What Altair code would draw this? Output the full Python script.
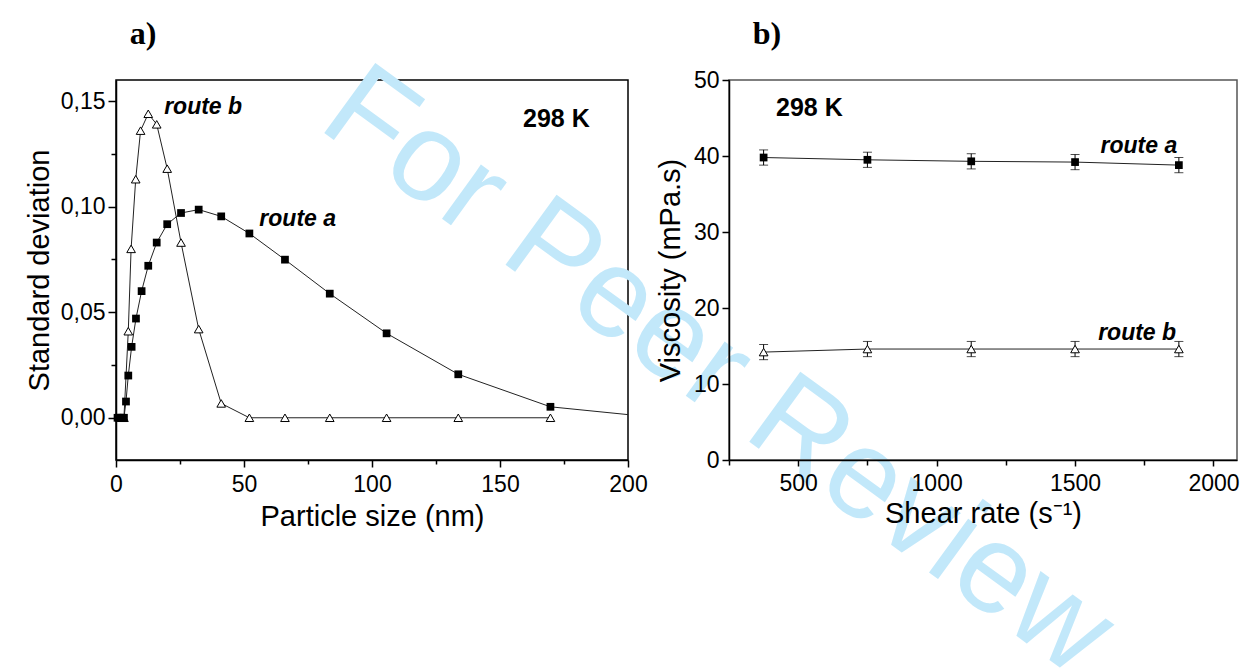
import altair as alt
import pandas as pd

# ---------------- data: panel a) ----------------
size_a = [0.6, 1.2, 1.9, 2.5, 3.1, 3.9, 4.8, 6.1, 7.8, 10.0, 12.6, 15.9, 20.0, 25.4,
          32.3, 41.1, 52.1, 66.0, 83.5, 105.7, 133.7, 169.7]
sd_a = [0.0, 0.0, 0.0, 0.0, 0.0, 0.0077, 0.020, 0.0336, 0.047, 0.060, 0.072, 0.083,
        0.0917, 0.097, 0.0986, 0.0954, 0.0873, 0.0749, 0.0588, 0.040, 0.0206, 0.0052]
# continuation of the route a fitted line beyond the last symbol
size_a_tail = [169.7, 200.0]
sd_a_tail = [0.0052, 0.0015]

size_b = [2.5, 3.1, 4.8, 5.9, 7.7, 9.6, 12.6, 15.9, 20.0, 25.4, 32.3, 41.1,
          52.1, 66.0, 83.5, 105.7, 133.7, 169.7]
sd_b = [0.0, 0.0, 0.041, 0.080, 0.113, 0.136, 0.144, 0.139, 0.118, 0.083, 0.042,
        0.0068, 0.0, 0.0, 0.0, 0.0, 0.0, 0.0]

# ---------------- data: panel b) ----------------
shear = [375, 750, 1125, 1500, 1875]
visc_a = [39.8, 39.5, 39.3, 39.2, 38.8]
visc_b = [14.2, 14.6, 14.6, 14.6, 14.6]
err_a = [1.0, 1.0, 1.0, 1.0, 1.0]
err_b = [1.0, 1.0, 1.0, 1.0, 1.0]

FONT = "Liberation Sans"
SERIF = "Liberation Serif"
WM_COLOR = "#c2e8fa"

df_a = pd.DataFrame({"size": size_a, "sd": sd_a})
df_a_tail = pd.DataFrame({"size": size_a_tail, "sd": sd_a_tail})
df_b = pd.DataFrame({"size": size_b, "sd": sd_b})

dv = pd.DataFrame({
    "shear": shear + shear,
    "visc": visc_a + visc_b,
    "err": err_a + err_b,
    "route": ["a"] * len(shear) + ["b"] * len(shear),
})

def axis_common(**kw):
    base = dict(
        labelFont=FONT, titleFont=FONT, labelFontSize=23, titleFontSize=29,
        titleFontWeight="normal", labelColor="black", titleColor="black",
        domainColor="black", domainWidth=1.5, tickColor="black", tickWidth=1.5,
        grid=False, labelFlush=False, labelOverlap=False,
    )
    base.update(kw)
    return alt.Axis(**base)

# ---------- panel a ----------
xa = alt.X("size:Q", scale=alt.Scale(domain=[0, 200], nice=False, zero=False),
           axis=axis_common(
               title="Particle size (nm)",
               values=[0, 25, 50, 75, 100, 125, 150, 175, 200],
               format="d",
               labelExpr="datum.value % 50 === 0 ? datum.label : ''",
               tickSize={"condition": {"test": "datum.value % 50 === 0", "value": 7}, "value": 4},
               labelPadding=6, titlePadding=6))
ya = alt.Y("sd:Q", scale=alt.Scale(domain=[-0.02, 0.16], nice=False, zero=False),
           axis=axis_common(
               title="Standard deviation",
               values=[0, 0.025, 0.05, 0.075, 0.1, 0.125, 0.15],
               labelExpr="round(datum.value*1000) % 50 === 0 ? replace(format(datum.value, '.2f'), '.', ',') : ''",
               tickSize={"condition": {"test": "round(datum.value*1000) % 50 === 0", "value": 8}, "value": 5},
               labelPadding=3, titlePadding=6))

wm = alt.Chart(pd.DataFrame({"t": ["For Peer Review"]})).mark_text(
    font=FONT, fontSize=126, color=WM_COLOR, angle=36, align="center", baseline="middle"
).encode(x=alt.value(602), y=alt.value(292), text="t:N")

panel_a_lbl = alt.Chart(pd.DataFrame({"t": ["a)"]})).mark_text(
    font=SERIF, fontSize=32, fontWeight="bold", align="center", baseline="middle", color="black"
).encode(x=alt.value(27), y=alt.value(-46), text="t:N")

line_a = alt.Chart(df_a).mark_line(color="#222", strokeWidth=1).encode(x=xa, y=ya)
tail_a = alt.Chart(df_a_tail).mark_line(color="#222", strokeWidth=1).encode(x="size:Q", y="sd:Q")
line_b = alt.Chart(df_b).mark_line(color="#222", strokeWidth=1).encode(x="size:Q", y="sd:Q")
pts_b = alt.Chart(df_b).mark_point(shape="triangle-up", size=75, filled=True, fill="white",
                                   stroke="black", strokeWidth=1, opacity=1).encode(x="size:Q", y="sd:Q")
pts_a = alt.Chart(df_a).mark_point(shape="square", size=60, filled=True, color="black",
                                   opacity=1).encode(x="size:Q", y="sd:Q")

ann_a = pd.DataFrame({"x": [56.0, 18.8], "y": [0.0942, 0.147], "t": ["route a", "route b"]})
txt_a = alt.Chart(ann_a).mark_text(font=FONT, fontSize=23, fontStyle="italic", fontWeight="bold",
                                   align="left", baseline="middle", color="black").encode(
    x="x:Q", y="y:Q", text="t:N")
k_a = alt.Chart(pd.DataFrame({"x": [159.0], "y": [0.1414], "t": ["298 K"]})).mark_text(
    font=FONT, fontSize=25, fontWeight="bold", align="left", baseline="middle", color="black"
).encode(x="x:Q", y="y:Q", text="t:N")

left = alt.layer(wm, line_a, tail_a, line_b, pts_b, pts_a, txt_a, k_a, panel_a_lbl).properties(
    width=512, height=380, view=alt.ViewBackground(stroke="black", strokeWidth=1.5))

# ---------- panel b ----------
xb = alt.X("shear:Q", scale=alt.Scale(domain=[250, 2085], nice=False, zero=False),
           axis=axis_common(
               title="Shear rate (s⁻¹)",
               values=[250, 500, 750, 1000, 1250, 1500, 1750, 2000],
               format="d",
               labelExpr="datum.value % 500 === 0 ? datum.label : ''",
               tickSize={"condition": {"test": "datum.value % 500 === 0", "value": 6}, "value": 5},
               labelPadding=6, titlePadding=4))
yb = alt.Y("visc:Q", scale=alt.Scale(domain=[0, 50], nice=False, zero=False),
           axis=axis_common(
               title="Viscosity (mPa.s)",
               values=[0, 5, 10, 15, 20, 25, 30, 35, 40, 45, 50],
               format="d",
               labelExpr="datum.value % 10 === 0 ? datum.label : ''",
               tickSize={"condition": {"test": "datum.value % 10 === 0", "value": 7}, "value": 4},
               labelPadding=3, titlePadding=8))

base_b = alt.Chart(dv).transform_calculate(lo="datum.visc - datum.err", hi="datum.visc + datum.err")
lines_b = base_b.mark_line(color="#222", strokeWidth=1).encode(x=xb, y=yb, detail="route:N")
bars_b = base_b.mark_rule(color="black", strokeWidth=1).encode(x="shear:Q", y="lo:Q", y2="hi:Q")
cap_lo = base_b.mark_tick(orient="horizontal", size=9, thickness=1, color="black").encode(
    x="shear:Q", y="lo:Q")
cap_hi = base_b.mark_tick(orient="horizontal", size=9, thickness=1, color="black").encode(
    x="shear:Q", y="hi:Q")
sq_b = base_b.transform_filter("datum.route === 'a'").mark_point(
    shape="square", size=60, filled=True, color="black", opacity=1).encode(x="shear:Q", y="visc:Q")
tr_b = base_b.transform_filter("datum.route === 'b'").mark_point(
    shape="triangle-up", size=75, filled=True, fill="white", stroke="black", strokeWidth=1,
    opacity=1).encode(x="shear:Q", y="visc:Q")

ann_b = pd.DataFrame({"x": [1869, 1865], "y": [41.3, 16.7], "t": ["route a", "route b"]})
txt_b = alt.Chart(ann_b).mark_text(font=FONT, fontSize=23, fontStyle="italic", fontWeight="bold",
                                   align="right", baseline="middle", color="black").encode(
    x="x:Q", y="y:Q", text="t:N")
k_b = alt.Chart(pd.DataFrame({"x": [420], "y": [46.3], "t": ["298 K"]})).mark_text(
    font=FONT, fontSize=25, fontWeight="bold", align="left", baseline="middle", color="black"
).encode(x="x:Q", y="y:Q", text="t:N")
panel_b_lbl = alt.Chart(pd.DataFrame({"t": ["b)"]})).mark_text(
    font=SERIF, fontSize=32, fontWeight="bold", align="center", baseline="middle", color="black"
).encode(x=alt.value(38), y=alt.value(-46), text="t:N")

right = alt.layer(lines_b, bars_b, cap_lo, cap_hi, tr_b, sq_b, txt_b, k_b, panel_b_lbl).properties(
    width=508, height=380, view=alt.ViewBackground(stroke="#555", strokeWidth=1.5))

chart = alt.hconcat(left, right, spacing=101, bounds="flush").properties(
    padding={"left": 24, "top": 17, "right": 0, "bottom": 0},
    background="white",
).configure_view(stroke="black")

chart.save("out.html", embed_options={"renderer": "svg", "actions": False})
